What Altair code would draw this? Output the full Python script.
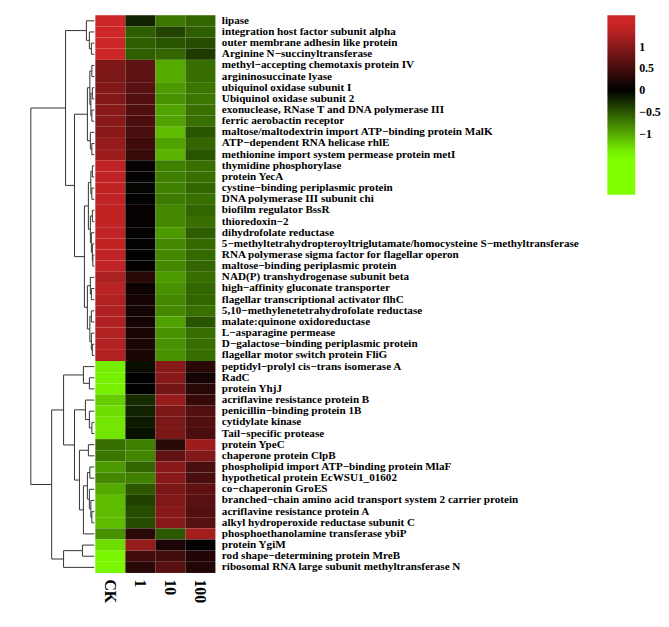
import altair as alt
import pandas as pd

genes = [
    "lipase",
    "integration host factor subunit alpha",
    "outer membrane adhesin like protein",
    "Arginine N−succinyltransferase",
    "methyl−accepting chemotaxis protein IV",
    "argininosuccinate lyase",
    "ubiquinol oxidase subunit I",
    "Ubiquinol oxidase subunit 2",
    "exonuclease, RNase T and DNA polymerase III",
    "ferric aerobactin receptor",
    "maltose/maltodextrin import ATP−binding protein MalK",
    "ATP−dependent RNA helicase rhlE",
    "methionine import system permease protein metI",
    "thymidine phosphorylase",
    "protein YecA",
    "cystine−binding periplasmic protein",
    "DNA polymerase III subunit chi",
    "biofilm regulator BssR",
    "thioredoxin−2",
    "dihydrofolate reductase",
    "5−methyltetrahydropteroyltriglutamate/homocysteine S−methyltransferase",
    "RNA polymerase sigma factor for flagellar operon",
    "maltose−binding periplasmic protein",
    "NAD(P) transhydrogenase subunit beta",
    "high−affinity gluconate transporter",
    "flagellar transcriptional activator flhC",
    "5,10−methylenetetrahydrofolate reductase",
    "malate:quinone oxidoreductase",
    "L−asparagine permease",
    "D−galactose−binding periplasmic protein",
    "flagellar motor switch protein FliG",
    "peptidyl−prolyl cis−trans isomerase A",
    "RadC",
    "protein YhjJ",
    "acriflavine resistance protein B",
    "penicillin−binding protein 1B",
    "cytidylate kinase",
    "Tail−specific protease",
    "protein YpeC",
    "chaperone protein ClpB",
    "phospholipid import ATP−binding protein MlaF",
    "hypothetical protein EcWSU1_01602",
    "co−chaperonin GroES",
    "branched−chain amino acid transport system 2 carrier protein",
    "acriflavine resistance protein A",
    "alkyl hydroperoxide reductase subunit C",
    "phosphoethanolamine transferase ybiP",
    "protein YgiM",
    "rod shape−determining protein MreB",
    "ribosomal RNA large subunit methyltransferase N",
]

samples = ["CK", "1", "10", "100"]

ck = [1.5, 1.5, 1.5, 1.5, 0.92, 0.9, 0.95, 0.95, 1.0, 1.0, 1.0, 1.1, 1.15,
      1.4, 1.4, 1.4, 1.4, 1.4, 1.4, 1.4, 1.4, 1.4, 1.4, 1.25, 1.35, 1.3, 1.3,
      1.3, 1.3, 1.3, 1.3,
      -1.4, -1.42, -1.42, -1.2, -1.3, -1.35, -1.35,
      -0.65, -0.7, -0.9, -0.8, -1.0, -1.1, -1.1, -1.1, -0.85, -1.3, -1.45, -1.45]
c1 = [-0.2, -0.55, -0.55, -0.55, 0.69, 0.7, 0.65, 0.6, 0.6, 0.55, 0.55, 0.45, 0.4,
      0.05, 0.02, -0.03, 0.0, 0.05, 0.05, 0.03, 0.02, 0.02, 0.03, 0.3, 0.1, 0.15,
      0.15, 0.15, 0.2, 0.2, 0.2,
      -0.08, 0.0, 0.0, -0.25, -0.2, -0.15, -0.1,
      -0.75, -0.78, -0.6, -0.75, -0.52, -0.38, -0.45, -0.45, 0.3, 1.1, 0.48, 0.3]
c10 = [-0.7, -0.4, -0.5, -0.6, -1.0, -1.0, -0.9, -0.85, -0.95, -0.95, -1.1, -0.95, -1.05,
       -0.75, -0.75, -0.75, -0.72, -0.8, -0.8, -0.9, -0.8, -0.8, -0.8, -0.9, -0.85,
       -0.8, -0.8, -0.95, -0.85, -0.85, -0.85,
       1.0, 1.0, 0.85, 1.1, 0.9, 0.9, 0.9,
       0.3, 0.7, 1.0, 1.0, 0.9, 0.93, 1.0, 1.0, -0.52, 0.18, 0.5, 0.65]
c100 = [-0.6, -0.55, -0.45, -0.35, -0.65, -0.65, -0.7, -0.7, -0.65, -0.65, -0.5, -0.6, -0.5,
        -0.65, -0.65, -0.6, -0.65, -0.6, -0.65, -0.55, -0.62, -0.62, -0.6, -0.65, -0.6,
        -0.6, -0.65, -0.5, -0.65, -0.65, -0.65,
        0.3, 0.15, 0.3, 0.4, 0.6, 0.6, 0.55,
        1.15, 0.95, 0.55, 0.55, 0.7, 0.65, 0.6, 0.62, 1.2, 0.02, 0.25, 0.25]

# Row dendrogram: (merge height, left child, right child); leaves are row numbers
G1 = (0.8, 1, (0.5, 2, (0.3, 3, 4)))
G2 = (0.7, (0.45, (0.25, 5, 6), (0.35, (0.2, 7, 8), (0.25, 9, 10))), (0.4, 11, (0.25, 12, 13)))
G3 = (1.0, (0.6, (0.35, (0.2, 14, 15), (0.25, 16, 17)),
            (0.4, (0.2, 18, 19), (0.3, 20, (0.2, 21, (0.15, 22, 23))))),
       (0.7, (0.4, 24, (0.3, 25, 26)), (0.45, (0.3, 27, 28), (0.3, 29, (0.2, 30, 31)))))
G4a = (1.1, 32, (0.5, 33, 34))
G4b = (0.9, 35, (0.5, 36, (0.25, 37, 38)))
G5 = (1.5, (0.6, 39, 40),
      (1.1, (0.7, (0.45, 41, 42), (0.5, 43, (0.35, 44, (0.25, 45, 46)))), 47))
G7 = (3.1, (1.2, 48, 49), 50)
tree = (6.4, (2.9, G1, (2.0, G2, G3)), (4.3, (3.1, G4a, (2.0, G4b, G5)), G7))

segs = []


def walk(node):
    if not isinstance(node, tuple):
        return float(node), 0.0
    h, a, b = node
    ya, ha = walk(a)
    yb, hb = walk(b)
    segs.append({"x": ha, "x2": h, "y": ya, "y2": ya})
    segs.append({"x": hb, "x2": h, "y": yb, "y2": yb})
    segs.append({"x": h, "x2": h, "y": ya, "y2": yb})
    return (ya + yb) / 2, h


walk(tree)
seg_df = pd.DataFrame(segs)

rows = []
for i, g in enumerate(genes):
    for s, vals in zip(samples, [ck, c1, c10, c100]):
        rows.append({"gene": g, "sample": s, "z": vals[i]})
df = pd.DataFrame(rows)

FONT = "Liberation Serif"
n = len(genes)

dendro = alt.Chart(seg_df).mark_rule(color="#333333", strokeWidth=1).encode(
    x=alt.X("x:Q", scale=alt.Scale(domain=[0, 8.7], reverse=True, nice=False, zero=False), axis=None),
    x2="x2:Q",
    y=alt.Y("y:Q", scale=alt.Scale(domain=[0.5, n + 0.5], reverse=True, nice=False, zero=False), axis=None),
    y2="y2:Q",
).properties(width=87, height=562)

heat = alt.Chart(df).mark_rect().encode(
    x=alt.X("sample:N", sort=samples, scale=alt.Scale(padding=0),
            axis=alt.Axis(title=None, orient="bottom", labelAngle=90, labelAlign="left",
                          labelBaseline="middle", domain=False, ticks=False,
                          labelFont=FONT, labelFontWeight="bold", labelFontSize=16,
                          labelPadding=6, labelColor="black")),
    y=alt.Y("gene:N", sort=genes, scale=alt.Scale(padding=0),
            axis=alt.Axis(title=None, orient="right", domain=False, ticks=False,
                          labelFont=FONT, labelFontWeight="bold", labelFontSize=11.2,
                          labelPadding=6, labelLimit=0, labelColor="black")),
    color=alt.Color("z:Q",
                    scale=alt.Scale(domain=[-2.4, -1.5, 0, 1.5, 1.72],
                                    range=["#7FFF00", "#7FFF00", "#000000", "#CD2626", "#CD2626"],
                                    interpolate="rgb"),
                    legend=alt.Legend(title=None, orient="none", legendX=604, legendY=0,
                                      values=[1, 0.5, 0, -0.5, -1],
                                      labelExpr="datum.value < 0 ? '−' + format(-datum.value, '~g') : format(datum.value, '~g')",
                                      labelOverlap=False,
                                      gradientLength=181, gradientThickness=28,
                                      gradientStrokeWidth=0,
                                      labelFont=FONT, labelFontWeight="bold",
                                      labelFontSize=12, labelColor="black", labelOffset=4)),
).properties(width=121, height=562)

chart = alt.hconcat(dendro, heat, spacing=0).properties(
    padding={"left": 0, "top": 4, "right": 0, "bottom": 0}
).configure_view(stroke=None)

chart.save("out.html", embed_options={"renderer": "svg", "actions": False})
